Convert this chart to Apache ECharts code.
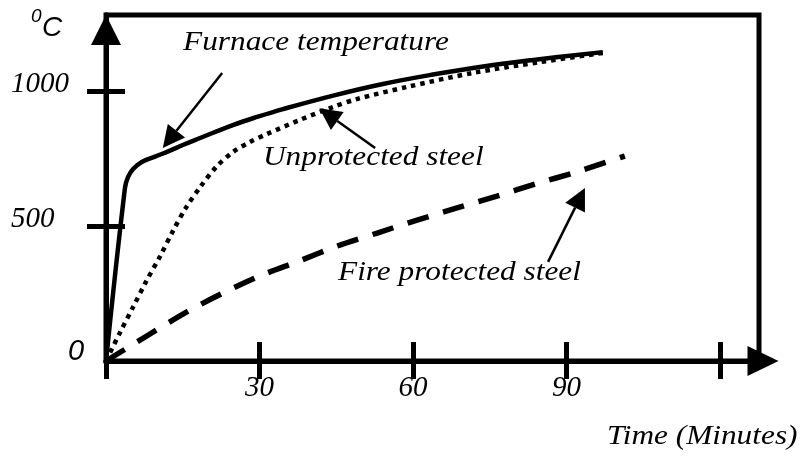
<!DOCTYPE html>
<html><head><meta charset="utf-8">
<script src="https://cdn.jsdelivr.net/npm/echarts@6/dist/echarts.min.js"></script>
<style>html,body{margin:0;padding:0;background:#fff}#c{width:804px;height:462px}</style>
</head><body><div id="c"></div>
<script>
// ---- data (minutes, °C) ----
const xTicks = [0, 30, 60, 90, 120];
const xLabels = [30, 60, 90];
const yTicks = [500, 1000];
const furnace = [[0,0],[3.7,641],[4.3,681],[5.3,711],[7.0,737],[9.6,757],[12.5,779],[15.0,800],[18.4,826],[24.8,874],[29.7,905],[34.6,933],[44.4,983],[54.1,1026],[63.9,1061],[73.7,1091],[83.5,1115],[97.1,1144]];
const unprotected = [[0,0],[2.7,104],[5.3,200],[7.8,293],[10.6,389],[13.1,482],[15.6,567],[18.4,644],[21.7,722],[24.8,774],[28.1,811],[31.5,841],[37.9,893],[44.4,941],[49.0,970],[58.8,1015],[71.7,1067],[84.8,1107],[97.1,1141]];
const fireProtected = [[0,0],[8.6,100],[15.8,182],[22.9,252],[30.1,315],[37.7,370],[45.2,426],[53.0,474],[60.8,522],[68.6,567],[76.4,611],[84.0,656],[91.9,700],[101.4,759]];
// annotation arrows: [tail, tip] in data units
const arrows = [[[22.7,1067],[11.1,789]], [[52.6,789],[41.7,936]], [[86.4,367],[93.6,641]]];
const labels = [
  {text:'Furnace temperature', x:183, y:43},
  {text:'Unprotected steel', x:263, y:158},
  {text:'Fire protected steel', x:338, y:273},
  {text:'Time (Minutes)', x:607, y:437}
];

const serif = "'Liberation Serif','Times New Roman',serif";
const sans = "'Liberation Sans',Arial,sans-serif";
const chart = echarts.init(document.getElementById('c'), null, {renderer:'canvas'});
const XMAX = 127.62, YMAX = 1281.5;
const tickStyle = {color:'#000', width:5};

const option = {
  animation: false,
  backgroundColor: '#fff',
  grid: {left:106, right:45, top:15, bottom:101, show:true, borderColor:'#000', borderWidth:5, backgroundColor:'transparent'},
  xAxis: [
    {type:'value', min:0, max:XMAX, position:'bottom',
     axisLine:{show:true, onZero:false, symbol:['none','triangle'], symbolSize:[30,31], symbolOffset:[0,4], lineStyle:{color:'#000', width:5}},
     axisTick:{show:true, inside:false, length:18, customValues:xTicks, lineStyle:tickStyle},
     axisLabel:{show:true, customValues:xLabels, margin:13, formatter:function(v){return String(v);}, fontFamily:serif, fontStyle:'italic', fontSize:29, color:'#000'},
     splitLine:{show:false}},
    {type:'value', min:0, max:XMAX, position:'bottom',
     axisLine:{show:true, onZero:false, lineStyle:{color:'#000', width:5}},
     axisTick:{show:true, inside:true, length:19, customValues:xTicks, lineStyle:tickStyle},
     axisLabel:{show:false}, splitLine:{show:false}}
  ],
  yAxis: [
    {type:'value', min:0, max:YMAX, position:'left',
     axisLine:{show:true, onZero:false, symbol:['none','triangle'], symbolSize:[30,30], symbolOffset:[0,-15], lineStyle:{color:'#000', width:5}},
     axisTick:{show:true, inside:false, length:19, customValues:yTicks, lineStyle:tickStyle},
     axisLabel:{show:true, customValues:yTicks, margin:95, align:'left', verticalAlign:'bottom', lineHeight:14,
       formatter:function(v){return String(v);}, fontFamily:serif, fontStyle:'italic', fontSize:29, color:'#000'},
     splitLine:{show:false}},
    {type:'value', min:0, max:YMAX, position:'left',
     axisLine:{show:true, onZero:false, lineStyle:{color:'#000', width:5}},
     axisTick:{show:true, inside:true, length:19, customValues:yTicks, lineStyle:tickStyle},
     axisLabel:{show:false}, splitLine:{show:false}}
  ],
  series: [
    {name:'Furnace temperature', type:'line', data:furnace, symbol:'none', smooth:0.4, z:3,
     lineStyle:{color:'#000', width:4.5, type:'solid'}},
    {name:'Unprotected steel', type:'line', data:unprotected, symbol:'none', smooth:0.3, z:2,
     lineStyle:{color:'#000', width:4.5, type:[4.5,5], cap:'butt'}},
    {name:'Fire protected steel', type:'line', data:fireProtected, symbol:'none', smooth:0.3, z:2,
     lineStyle:{color:'#000', width:5.5, type:[22,15], cap:'butt'}}
  ]
};
chart.setOption(option);

// graphics: annotation arrows and texts
const g = [];
arrows.forEach(function (a) {
  const p0 = chart.convertToPixel({gridIndex:0}, a[0]);
  const p1 = chart.convertToPixel({gridIndex:0}, a[1]);
  const dx = p1[0]-p0[0], dy = p1[1]-p0[1];
  const L = Math.sqrt(dx*dx+dy*dy), ux = dx/L, uy = dy/L;
  const hl = 22, hw = 11;
  const bx = p1[0]-ux*hl, by = p1[1]-uy*hl;
  g.push({type:'line', shape:{x1:p0[0], y1:p0[1], x2:bx, y2:by}, style:{stroke:'#000', lineWidth:2.5}, z:10});
  g.push({type:'polygon', shape:{points:[[p1[0],p1[1]],[bx-uy*hw, by+ux*hw],[bx+uy*hw, by-ux*hw]]}, style:{fill:'#000'}, z:10});
});
labels.forEach(function (t) {
  g.push({type:'text', x:t.x, y:t.y, scaleX:1.16, z:10,
    style:{text:t.text, x:0, y:0, font:'italic 27px ' + serif, fill:'#000', textAlign:'left', textVerticalAlign:'middle'}});
});
g.push({type:'text', x:31, y:17, z:10, style:{text:'0', font:'italic 19px ' + sans, fill:'#000', textAlign:'left', textVerticalAlign:'middle'}});
g.push({type:'text', x:42, y:28, z:10, style:{text:'C', font:'italic 28px ' + sans, fill:'#000', textAlign:'left', textVerticalAlign:'middle'}});
g.push({type:'text', x:68, y:352, z:10, style:{text:'0', font:'italic 29px ' + sans, fill:'#000', textAlign:'left', textVerticalAlign:'middle'}});
chart.setOption({graphic:g});
</script>
</body></html>
